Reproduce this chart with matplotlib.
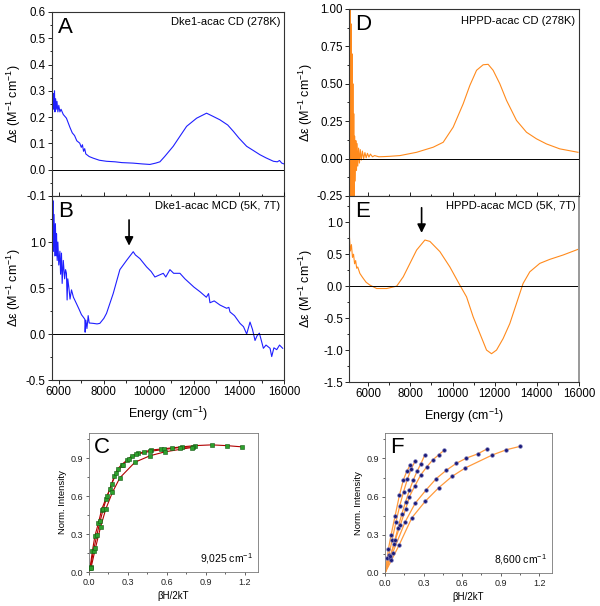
import matplotlib
matplotlib.use('Agg')
import matplotlib.pyplot as plt
from matplotlib.ticker import MultipleLocator, FormatStrFormatter

plt.rcParams['font.family'] = ['Liberation Sans', 'DejaVu Sans']
plt.rcParams['mathtext.fontset'] = 'custom'
plt.rcParams['mathtext.rm'] = 'Liberation Sans'
plt.rcParams['mathtext.it'] = 'Liberation Sans:italic'
plt.rcParams['mathtext.default'] = 'regular'

# ---------------- data ----------------
# Panel A: Dke1-acac CD (278K)
A_E = [5710, 5730, 5750, 5770, 5790, 5810, 5830, 5860, 5890, 5920, 5960, 6000, 6050, 6100,
       6200, 6340, 6500, 6600, 6700, 6800, 6930, 7000, 7050, 7100, 7150, 7200, 7350, 7525,
       7800, 8120, 8500, 8800, 9300, 9700, 10045, 10300, 10490, 10700, 11080, 11400, 11675,
       12120, 12560, 12800, 13150, 13500, 13750, 14000, 14340, 14600, 14930, 15200, 15530,
       15700, 15800, 15900, 16000]
A_val = [0.25, 0.28, 0.23, 0.29, 0.24, 0.30, 0.22, 0.27, 0.23, 0.26, 0.22, 0.245, 0.22, 0.23,
         0.21, 0.196, 0.16, 0.14, 0.13, 0.11, 0.101, 0.085, 0.095, 0.07, 0.08, 0.06, 0.05, 0.044,
         0.036, 0.032, 0.03, 0.027, 0.025, 0.022, 0.02, 0.025, 0.03, 0.05, 0.089, 0.13, 0.165,
         0.196, 0.215, 0.205, 0.19, 0.17, 0.146, 0.12, 0.089, 0.075, 0.057, 0.045, 0.032,
         0.03, 0.035, 0.025, 0.022]

# Panel B: Dke1-acac MCD (5K, 7T)
B_E = [5700, 5720, 5740, 5760, 5790, 5820, 5850, 5880, 5900, 5930, 5960, 6000, 6050, 6080,
       6120, 6150, 6200, 6260, 6300, 6340, 6370, 6400, 6450, 6500, 6564, 6650, 6786, 6900,
       7008, 7100, 7157, 7170, 7200, 7250, 7305, 7350, 7527, 7700, 7823, 8000, 8120, 8416,
       8712, 9009, 9305, 9400, 9601, 9897, 10100, 10268, 10450, 10638, 10750, 10934, 11100,
       11379, 11600, 11823, 12000, 12268, 12550, 12650, 12712, 12900, 13157, 13450, 13550,
       13601, 13800, 14045, 14200, 14342, 14490, 14600, 14712, 14800, 14905, 15083, 15200,
       15379, 15453, 15550, 15675, 15800, 15940]
B_val = [1.49, 1.0, 1.45, 0.9, 1.3, 0.85, 1.2, 0.85, 1.09, 0.8, 1.0, 0.75, 0.9, 0.65,
         0.88, 0.55, 0.8, 0.6, 0.7, 0.66, 0.37, 0.6, 0.5, 0.38, 0.48, 0.4, 0.33, 0.27,
         0.21, 0.18, 0.16, 0.02, 0.15, 0.06, 0.2, 0.12, 0.116, 0.11, 0.116, 0.17, 0.225, 0.44,
         0.70, 0.80, 0.895, 0.86, 0.82, 0.73, 0.68, 0.62, 0.64, 0.66, 0.62, 0.7, 0.66,
         0.66, 0.6, 0.55, 0.51, 0.46, 0.40, 0.44, 0.34, 0.36, 0.315, 0.28, 0.29,
         0.24, 0.2, 0.116, 0.08, 0.0, 0.13, 0.05, -0.07, -0.02, 0.01, -0.155, -0.12,
         -0.155, -0.245, -0.15, -0.17, -0.12, -0.155]

# Panel D: HPPD-acac CD (278K)
D_E = [5110, 5130, 5150, 5170, 5190, 5210, 5230, 5250, 5270, 5290, 5310, 5330, 5350, 5380,
       5410, 5440, 5470, 5500, 5540, 5580, 5620, 5670, 5720, 5780, 5840, 5900, 5960, 6030,
       6100, 6200, 6300, 6500, 6711, 7000, 7503, 8294, 9081, 9555, 10029, 10503, 10820,
       11138, 11451, 11688, 11925, 12242, 12560, 13034, 13508, 13982, 14455, 15086, 15953]
D_val = [1.2, -0.4, 1.1, -0.35, 0.9, -0.3, 0.7, -0.3, 0.5, -0.3, 0.3, -0.25, 0.15, -0.15,
         0.12, -0.08, 0.1, -0.05, 0.07, -0.03, 0.06, -0.01, 0.05, 0.0, 0.04, 0.005, 0.035, 0.01,
         0.03, 0.012, 0.02, 0.012, 0.013, 0.015, 0.02, 0.042, 0.076, 0.109, 0.21, 0.366, 0.489,
         0.59, 0.627, 0.63, 0.59, 0.50, 0.389, 0.255, 0.176, 0.132, 0.098, 0.065, 0.042]

# Panel E: HPPD-acac MCD (5K, 7T)
E_E = [5110, 5150, 5200, 5250, 5300, 5350, 5400, 5450, 5500, 5600, 5700, 5764, 5900, 6081,
       6398, 6873, 7346, 7659, 7977, 8294, 8688, 8925, 9399, 9873, 10346, 10664, 10977,
       11294, 11612, 11849, 12086, 12399, 12716, 13034, 13346, 13664, 14138, 14612, 15242,
       15953]
E_val = [0.75, 0.55, 0.65, 0.45, 0.5, 0.35, 0.4, 0.28, 0.3, 0.2, 0.15, 0.12, 0.06, 0.016,
         -0.037, -0.037, 0.0, 0.146, 0.356, 0.565, 0.722, 0.70, 0.54, 0.30, 0.016, -0.168, -0.48,
         -0.74, -1.0, -1.057, -1.0, -0.82, -0.586, -0.27, 0.042, 0.224, 0.356, 0.419, 0.487,
         0.576]

arrow_B = (9120, 1.27, 0.93)
arrow_E = (8530, 1.27, 0.79)

# Panel C: VTVH at 9,025 cm-1 (three isotherms)
C_x = [[0.008, 0.026, 0.046, 0.072, 0.097, 0.128, 0.162, 0.195, 0.22, 0.251, 0.29, 0.328,
        0.379, 0.426, 0.477, 0.554, 0.636, 0.713, 0.815, 0.944, 1.059, 1.18],
       [0.012, 0.035, 0.06, 0.085, 0.11, 0.14, 0.175, 0.21, 0.26, 0.31, 0.36, 0.47, 0.58,
        0.7, 0.8],
       [0.015, 0.05, 0.09, 0.13, 0.18, 0.238, 0.354, 0.47, 0.585, 0.79]]
C_y = [[0.028, 0.164, 0.288, 0.384, 0.493, 0.576, 0.658, 0.76, 0.814, 0.85, 0.883, 0.918,
        0.94, 0.951, 0.965, 0.973, 0.982, 0.99, 1.0, 1.006, 1.0, 0.99],
       [0.04, 0.17, 0.29, 0.4, 0.5, 0.6, 0.7, 0.78, 0.85, 0.895, 0.93, 0.955, 0.97, 0.985,
        0.99],
       [0.03, 0.19, 0.36, 0.5, 0.63, 0.746, 0.869, 0.92, 0.951, 0.985]]

# Panel F: VTVH at 8,600 cm-1 (six isotherms)
F_x = [[0.018, 0.026, 0.047, 0.078, 0.112, 0.143, 0.17, 0.196],
       [0.03, 0.055, 0.085, 0.115, 0.145, 0.175, 0.205, 0.235],
       [0.04, 0.07, 0.1, 0.13, 0.16, 0.19, 0.22, 0.25, 0.28, 0.308],
       [0.04, 0.08, 0.12, 0.16, 0.19, 0.23, 0.279, 0.326, 0.37, 0.417, 0.462],
       [0.06, 0.156, 0.235, 0.318, 0.397, 0.477, 0.556, 0.634, 0.72, 0.796],
       [0.05, 0.11, 0.209, 0.313, 0.417, 0.522, 0.626, 0.835, 0.944, 1.051]]
F_y = [[0.12, 0.186, 0.297, 0.446, 0.61, 0.732, 0.8, 0.848],
       [0.14, 0.26, 0.40, 0.53, 0.64, 0.74, 0.82, 0.88],
       [0.12, 0.23, 0.35, 0.46, 0.56, 0.65, 0.73, 0.8, 0.86, 0.924],
       [0.13, 0.26, 0.38, 0.5, 0.6, 0.68, 0.772, 0.835, 0.887, 0.928, 0.966],
       [0.16, 0.40, 0.548, 0.65, 0.74, 0.807, 0.862, 0.903, 0.935, 0.976],
       [0.1, 0.22, 0.434, 0.563, 0.669, 0.759, 0.826, 0.927, 0.968, 0.995]]

BLUE = '#1f1fff'
ORANGE = '#ff8a1c'
YLAB = 'Δε (M$^{-1}$ cm$^{-1}$)'

fig = plt.figure(figsize=(6.0, 6.06), dpi=100)


def style_spec(ax):
    ax.tick_params(which='both', direction='out', width=0.6, labelsize=8.3, pad=1.5)
    ax.tick_params(which='major', length=3)
    ax.tick_params(which='minor', length=1.8)
    for s in ax.spines.values():
        s.set_linewidth(0.8)
        s.set_color('#333333')


axA = fig.add_axes([0.0867, 0.6766, 0.3867, 0.3036])
axB = fig.add_axes([0.0867, 0.3729, 0.3867, 0.3036])
axD = fig.add_axes([0.5822, 0.6766, 0.3828, 0.3086])
axE = fig.add_axes([0.5822, 0.3696, 0.3828, 0.3069])

# A
axA.plot(A_E, A_val, color=BLUE, lw=0.8)
axA.axhline(0, color='k', lw=0.7)
axA.set_xlim(5700, 16000)
axA.set_ylim(-0.1, 0.6)
axA.yaxis.set_major_locator(MultipleLocator(0.1))
axA.yaxis.set_minor_locator(MultipleLocator(0.05))
axA.yaxis.set_major_formatter(FormatStrFormatter('%.1f'))
axA.set_xticks([])
style_spec(axA)
axA.set_ylabel(YLAB, fontsize=9)
axA.yaxis.set_label_coords(-0.125, 0.5)
axA.text(0.025, 0.975, 'A', transform=axA.transAxes, fontsize=16, va='top', ha='left')
axA.text(0.985, 0.975, 'Dke1-acac CD (278K)', transform=axA.transAxes, fontsize=8,
         va='top', ha='right')

# B
axB.plot(B_E, B_val, color=BLUE, lw=0.8)
axB.axhline(0, color='k', lw=0.7)
axB.set_xlim(5700, 16000)
axB.set_ylim(-0.5, 1.5)
axB.set_yticks([-0.5, 0.0, 0.5, 1.0])
axB.yaxis.set_minor_locator(MultipleLocator(0.25))
axB.yaxis.set_major_formatter(FormatStrFormatter('%.1f'))
axB.xaxis.set_major_locator(MultipleLocator(2000))
axB.xaxis.set_minor_locator(MultipleLocator(1000))
style_spec(axB)
axB.tick_params(axis='x', which='both', top=True)
axB.set_ylabel(YLAB, fontsize=9)
axB.yaxis.set_label_coords(-0.125, 0.5)
axB.set_xlabel('Energy (cm$^{-1}$)', fontsize=9, labelpad=5)
axB.text(0.025, 0.975, 'B', transform=axB.transAxes, fontsize=16, va='top', ha='left')
axB.text(0.985, 0.975, 'Dke1-acac MCD (5K, 7T)', transform=axB.transAxes, fontsize=8,
         va='top', ha='right')
axB.annotate('', xy=(arrow_B[0], arrow_B[2]), xytext=(arrow_B[0], arrow_B[1]),
             arrowprops=dict(arrowstyle='-|>,head_width=0.25,head_length=0.5',
                             color='k', lw=1.2))

# D
axD.plot(D_E, D_val, color=ORANGE, lw=0.8)
axD.axhline(0, color='k', lw=0.7)
axD.set_xlim(5100, 16000)
axD.set_ylim(-0.25, 1.0)
axD.yaxis.set_major_locator(MultipleLocator(0.25))
axD.yaxis.set_minor_locator(MultipleLocator(0.125))
axD.yaxis.set_major_formatter(FormatStrFormatter('%.2f'))
axD.set_xticks([])
style_spec(axD)
axD.set_ylabel(YLAB, fontsize=9)
axD.yaxis.set_label_coords(-0.15, 0.5)
axD.text(0.025, 0.975, 'D', transform=axD.transAxes, fontsize=16, va='top', ha='left')
axD.text(0.985, 0.965, 'HPPD-acac CD (278K)', transform=axD.transAxes, fontsize=8,
         va='top', ha='right')

# E
axE.plot(E_E, E_val, color=ORANGE, lw=0.8)
axE.axhline(0, color='k', lw=0.7)
axE.set_xlim(5100, 16000)
axE.set_ylim(-1.5, 1.41)
axE.set_yticks([-1.5, -1.0, -0.5, 0.0, 0.5, 1.0])
axE.yaxis.set_minor_locator(MultipleLocator(0.25))
axE.yaxis.set_major_formatter(FormatStrFormatter('%.1f'))
axE.xaxis.set_major_locator(MultipleLocator(2000))
axE.xaxis.set_minor_locator(MultipleLocator(1000))
style_spec(axE)
axE.spines['right'].set_color('#999999')
axE.spines['right'].set_linewidth(1.4)
axE.tick_params(axis='x', which='both', top=True)
axE.set_ylabel(YLAB, fontsize=9)
axE.yaxis.set_label_coords(-0.15, 0.5)
axE.set_xlabel('Energy (cm$^{-1}$)', fontsize=9, labelpad=5)
axE.text(0.025, 0.975, 'E', transform=axE.transAxes, fontsize=16, va='top', ha='left')
axE.text(0.985, 0.975, 'HPPD-acac MCD (5K, 7T)', transform=axE.transAxes, fontsize=8,
         va='top', ha='right')
axE.annotate('', xy=(arrow_E[0], arrow_E[2]), xytext=(arrow_E[0], arrow_E[1]),
             arrowprops=dict(arrowstyle='-|>,head_width=0.25,head_length=0.5',
                             color='k', lw=1.2))


def style_vtvh(ax, letter, note):
    ax.set_xlim(0, 1.3)
    ax.set_ylim(0, 1.1)
    ax.xaxis.set_major_locator(MultipleLocator(0.3))
    ax.xaxis.set_minor_locator(MultipleLocator(0.15))
    ax.yaxis.set_major_locator(MultipleLocator(0.3))
    ax.yaxis.set_minor_locator(MultipleLocator(0.15))
    ax.xaxis.set_major_formatter(FormatStrFormatter('%.1f'))
    ax.yaxis.set_major_formatter(FormatStrFormatter('%.1f'))
    ax.tick_params(which='both', direction='out', width=0.5, labelsize=6.5, pad=1.5,
                   colors='#222222')
    ax.tick_params(which='major', length=2.5)
    ax.tick_params(which='minor', length=1.5)
    for s in ax.spines.values():
        s.set_linewidth(0.6)
        s.set_color('#777777')
    ax.set_ylabel('Norm. Intensity', fontsize=6.8, labelpad=3)
    ax.set_xlabel('βH/2kT', fontsize=7, labelpad=3)
    ax.text(0.03, 0.97, letter, transform=ax.transAxes, fontsize=16, va='top', ha='left')
    ax.text(0.97, 0.04, note, transform=ax.transAxes, fontsize=7.5, va='bottom', ha='right')


axC = fig.add_axes([0.1483, 0.0561, 0.2817, 0.2294])
for xs, ys in zip(C_x, C_y):
    axC.plot([0] + xs, [0] + ys, color='#b00000', lw=0.8, zorder=2)
    axC.plot(xs, ys, ls='none', marker='s', ms=2.5, mfc='#2ca02c', mec='#145a14',
             mew=0.4, zorder=3)
style_vtvh(axC, 'C', '9,025 cm$^{-1}$')

axF = fig.add_axes([0.6417, 0.0545, 0.2783, 0.231])
for xs, ys in zip(F_x, F_y):
    axF.plot([0] + xs, [0] + ys, color='#ff9a3c', lw=0.9, zorder=2)
    axF.plot(xs, ys, ls='none', marker='o', ms=2.7, mfc='#1c1c7a', mec='#8080c0',
             mew=0.4, zorder=3)
style_vtvh(axF, 'F', '8,600 cm$^{-1}$')

fig.savefig('out.png', dpi=100)
